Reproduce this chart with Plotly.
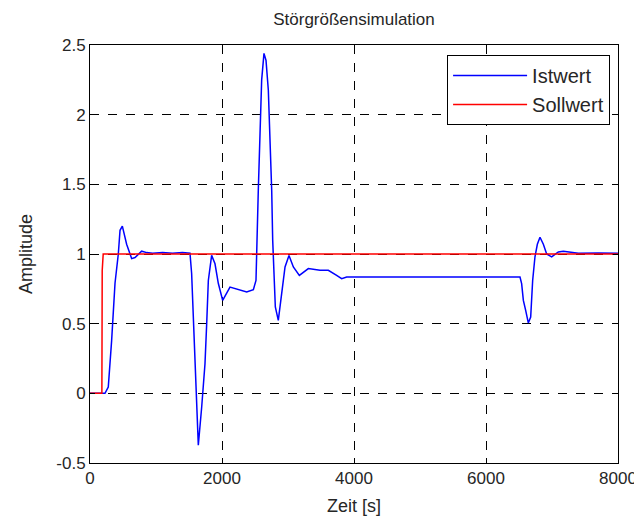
import plotly.graph_objects as go

# Istwert (actual value)
ist_t = [0, 227, 277, 328, 379, 429, 455, 490, 555, 631, 682, 783, 859, 950, 1100, 1250, 1400, 1515,
         1540, 1566, 1591, 1641, 1692, 1742, 1768, 1793, 1843, 1894, 1944, 2010, 2121, 2273, 2374, 2475,
         2515, 2550, 2576, 2601, 2636, 2667, 2702, 2727, 2753, 2768, 2788, 2808, 2853, 2904, 2955, 3015,
         3081, 3172, 3308, 3485, 3611, 3737, 3813, 3889, 4200, 5000, 6000, 6515, 6540, 6566, 6601, 6641,
         6677, 6707, 6742, 6778, 6818, 6869, 6919, 6995, 7096, 7172, 7400, 7700, 8000]
ist_v = [0, 0, 0.045, 0.38, 0.79, 1.0, 1.17, 1.2, 1.07, 0.967, 0.975, 1.02, 1.01, 1.005, 1.01, 1.005, 1.01, 1.005,
         0.86, 0.55, 0.24, -0.373, -0.1, 0.21, 0.5, 0.81, 0.99, 0.93, 0.79, 0.667, 0.763, 0.74, 0.727, 0.744,
         0.81, 1.457, 1.89, 2.25, 2.44, 2.39, 2.175, 1.84, 1.457, 1.1, 0.86, 0.62, 0.524, 0.716, 0.907, 0.99,
         0.907, 0.847, 0.895, 0.883, 0.883, 0.847, 0.823, 0.835, 0.835, 0.835, 0.835, 0.835, 0.787, 0.667, 0.596, 0.505,
         0.548, 0.81, 0.98, 1.07, 1.12, 1.07, 1.0, 0.98, 1.015, 1.02, 1.005, 1.008, 1.005]

# Sollwert (setpoint)
soll_t = [0, 180, 185, 200, 8000]
soll_v = [0, 0, 0.88, 1, 1]

x_ticks = [0, 2000, 4000, 6000, 8000]
y_ticks = [-0.5, 0, 0.5, 1, 1.5, 2, 2.5]
y_tick_labels = ["-0.5", "0", "0.5", "1", "1.5", "2", "2.5"]

TXT = "#262626"

fig = go.Figure()
fig.add_trace(go.Scatter(x=ist_t, y=ist_v, mode="lines", name="Istwert", legendgroup="a",
                         line=dict(color="#0000ff", width=1.5)))
fig.add_trace(go.Scatter(x=soll_t, y=soll_v, mode="lines", name="Sollwert", legendgroup="b",
                         line=dict(color="#ff0000", width=1.5)))

axis_common = dict(showline=True, linecolor="black", linewidth=1, mirror="ticks",
                   ticks="inside", ticklen=5, tickcolor="black",
                   showgrid=True, gridcolor="black", griddash="dash", gridwidth=1,
                   zeroline=False, automargin=False, tickfont=dict(size=17, color=TXT))

fig.update_xaxes(range=[0, 8000], tickvals=x_ticks, ticktext=[str(v) for v in x_ticks],
                 title=dict(text="Zeit [s]", font=dict(size=18, color=TXT), standoff=11),
                 **axis_common)
fig.update_yaxes(range=[-0.5, 2.5], tickvals=y_ticks, ticktext=y_tick_labels,
                 title=dict(text="Amplitude", font=dict(size=18, color=TXT), standoff=19),
                 **axis_common)

# the page body adds an 8px offset; the figure is sized to compensate
fig.update_layout(
    width=634, height=511,
    margin=dict(l=82, r=24, t=37, b=56),
    paper_bgcolor="white", plot_bgcolor="white",
    font=dict(family="Liberation Sans, Arial, sans-serif", color=TXT),
    title=dict(text="Störgrößensimulation", x=0.5, xref="paper", xanchor="center",
               y=1 - 11 / 511, yanchor="middle", font=dict(size=17, color=TXT),
               automargin=False),
    legend=dict(x=0.985, y=0.976, xanchor="right", yanchor="top",
                bgcolor="white", bordercolor="black", borderwidth=1,
                tracegroupgap=0, itemwidth=74,
                font=dict(size=20, color=TXT)),
    showlegend=True,
)

fig.write_html("out.html")
